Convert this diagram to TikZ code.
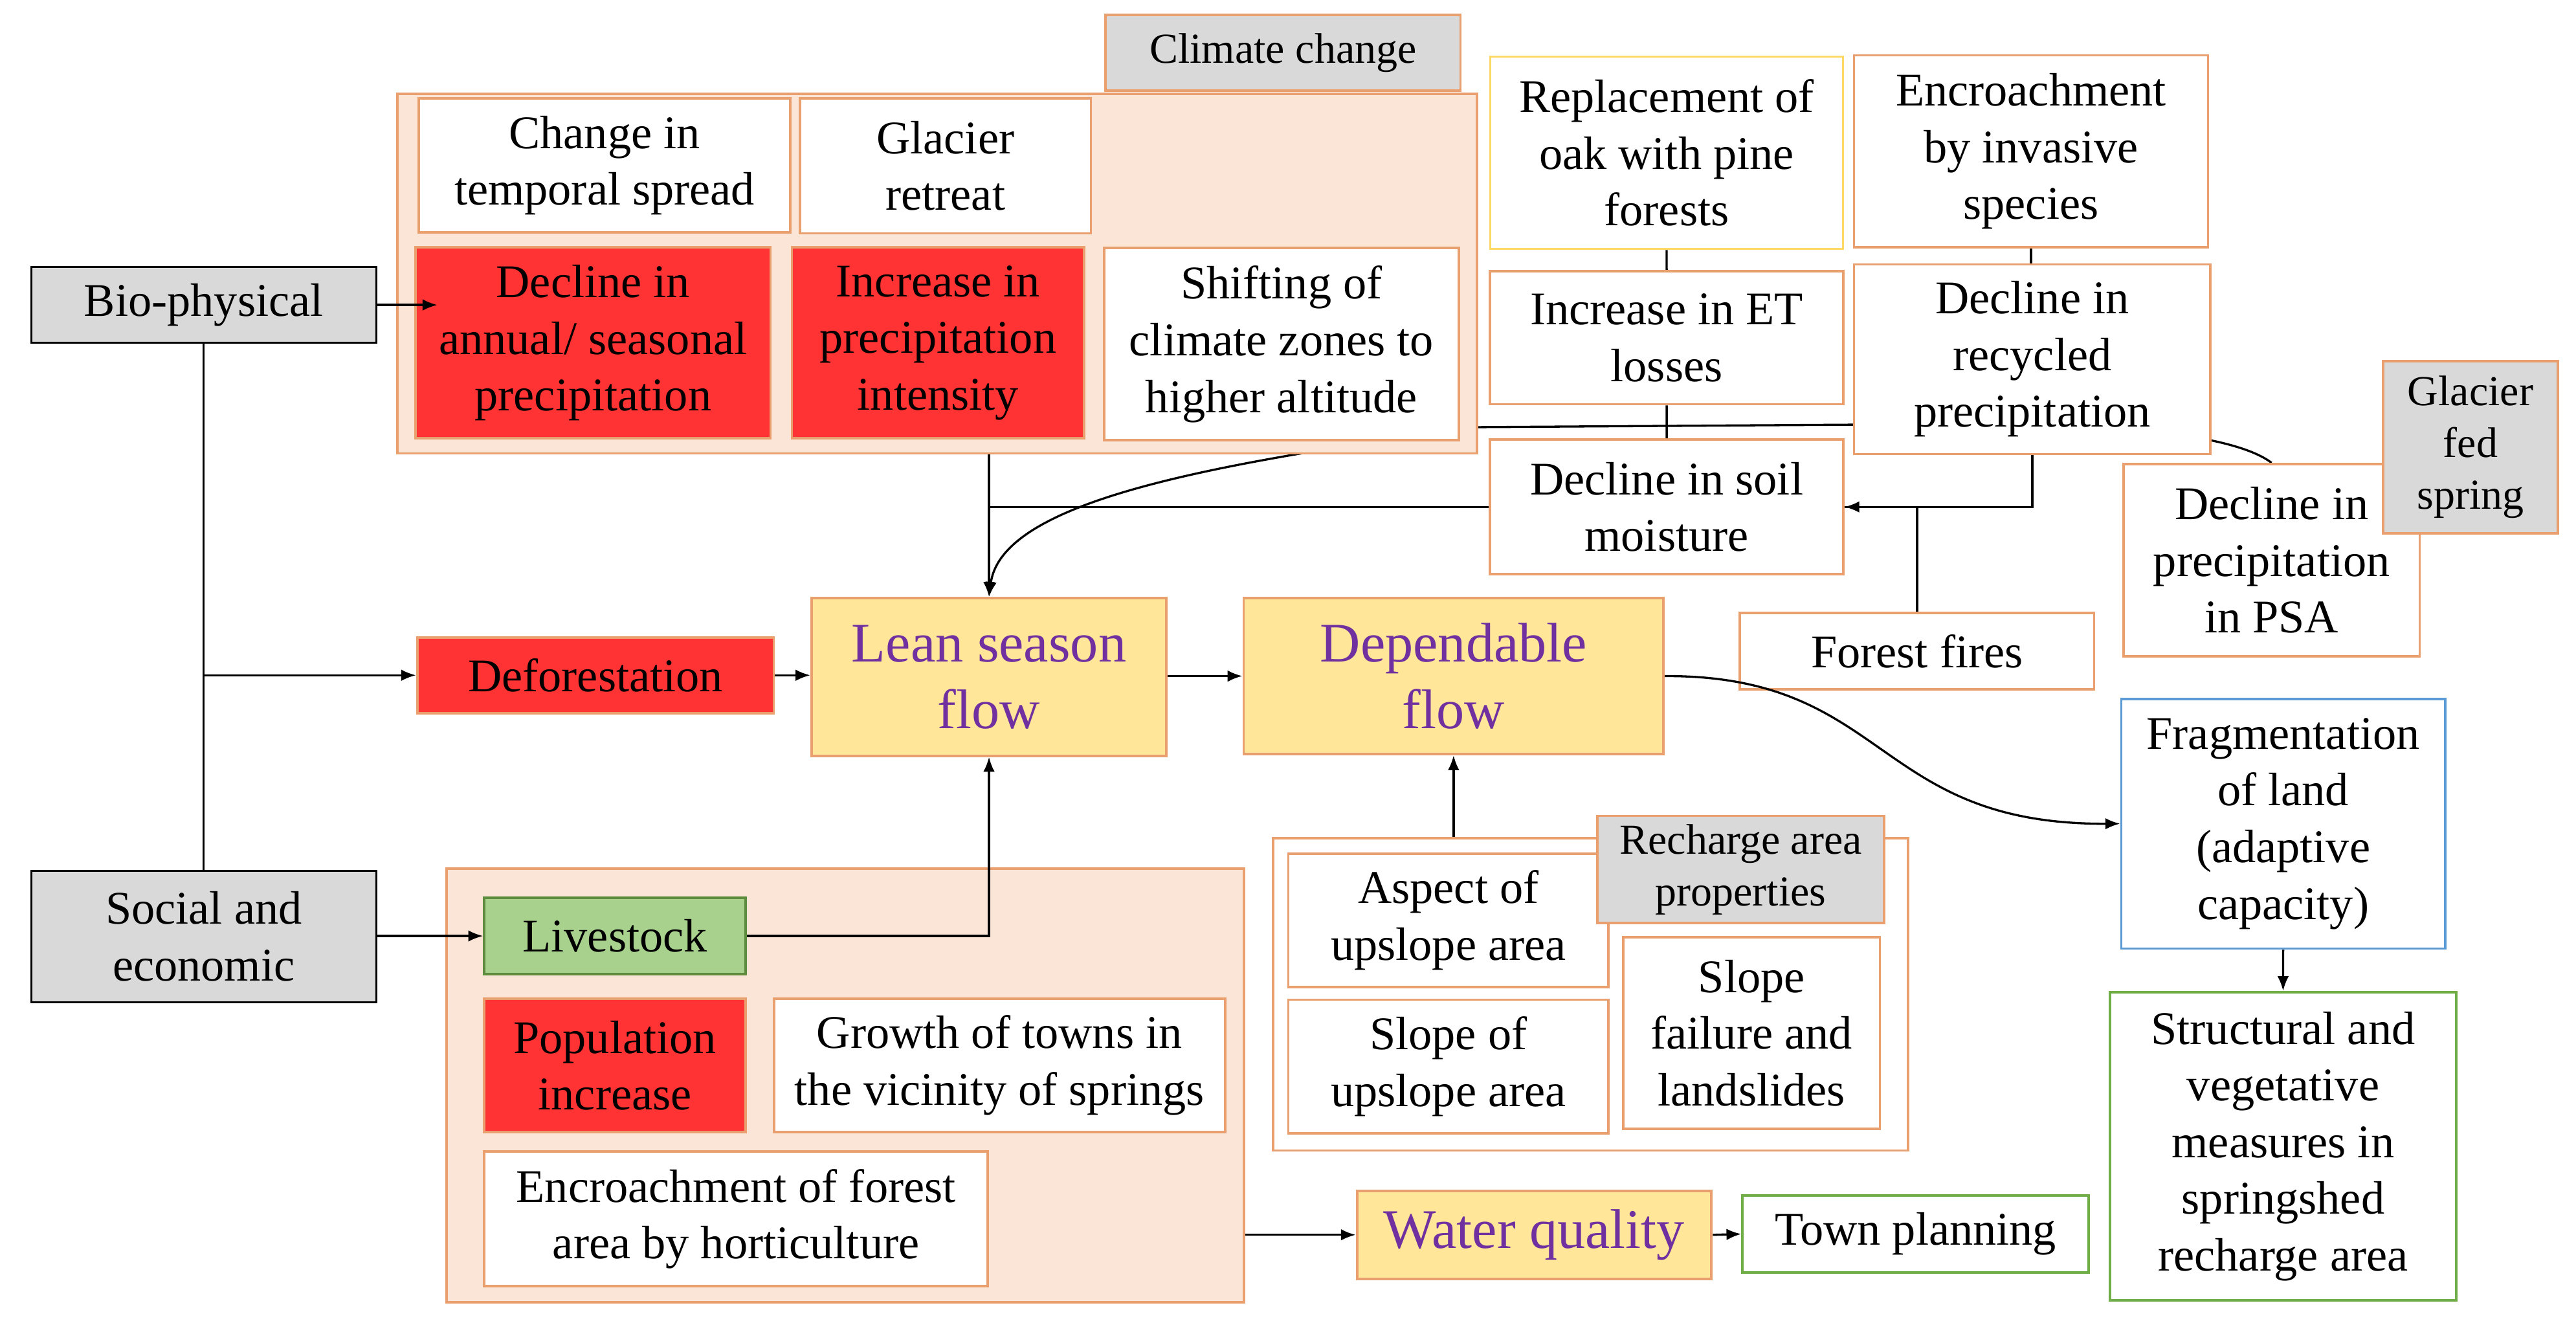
\documentclass[tikz,border=0pt]{standalone}
\usepackage{fontspec}
\setmainfont{Liberation Serif}
\usetikzlibrary{arrows.meta,backgrounds}
\definecolor{peach}{HTML}{FBE5D6}
\definecolor{brdr}{HTML}{E9A06E}
\definecolor{hotred}{HTML}{FF3333}
\definecolor{greyfill}{HTML}{D9D9D9}
\definecolor{flowyellow}{HTML}{FFE699}
\definecolor{flowtext}{HTML}{7030A0}
\definecolor{stockgreen}{HTML}{A9D18E}
\definecolor{darkgreen}{HTML}{5E8C3E}
\definecolor{leafgreen}{HTML}{70AD47}
\definecolor{skyblue}{HTML}{5B9BD5}
\definecolor{paleyellow}{HTML}{FFD966}

\begin{document}
\begin{tikzpicture}[x=1pt,y=-1pt,
    wh/.style 2 args={minimum width=#1,minimum height=#2},
    box/.style={draw=brdr,fill=white,line width=1.5pt,inner sep=0pt,align=center,
        font=\fontsize{28.5}{34.5}\selectfont},
    redbox/.style={box,fill=hotred},
    greybox/.style={box,fill=greyfill,font=\fontsize{26}{31.5}\selectfont},
    rootbox/.style={box,fill=greyfill,draw=black,line width=1.2pt},
    outerbox/.style={box,fill=peach},
    flowbox/.style={box,fill=flowyellow,text=flowtext,font=\fontsize{34}{40.5}\selectfont},
    arr/.style={-{Latex[length=9pt,width=7pt]},line width=1.3pt},
    ln/.style={line width=1.3pt}]
    \useasboundingbox (0,0) rectangle (1568,811.6);
    % climate change group
    \node[greybox,wh={216}{46}] (climchg) at (781,32) {Climate change};
    \node[outerbox,wh={657}{219}] (climbox) at (570.5,166.5) {};
    \node[box,wh={226}{81.5}] (temporal) at (368,100.75) {Change in\\temporal spread};
    \node[box,wh={177}{82}] (glacier) at (575.5,101) {Glacier\\retreat};
    \node[redbox,wh={216}{116}] (declann) at (361,208.65) {Decline in\\annual/ seasonal\\precipitation};
    \node[redbox,wh={178}{116}] (intens) at (571,208.65) {Increase in\\precipitation\\intensity};
    \node[box,wh={216}{117}] (shift) at (780,209.5) {Shifting of\\climate zones to\\higher altitude};
    % drivers
    \node[rootbox,wh={210}{46}] (bio) at (124,185.6) {Bio-physical};
    \node[rootbox,wh={210}{80}] (social) at (124,570) {Social and\\economic};
    \node[redbox,wh={217}{46}] (defor) at (362.5,411) {Deforestation};
    \node[flowbox,wh={216}{96}] (lean) at (602,412) {Lean season\\flow};
    \node[flowbox,wh={255.6}{95}] (dep) at (884.8,411.5) {Dependable\\flow};
    % social group
    \node[outerbox,wh={485.5}{264}] (socbox) at (514.45,660.8) {};
    \node[box,fill=stockgreen,draw=darkgreen,wh={159}{46.6}] (livest) at (374.3,569.7) {Livestock};
    \node[redbox,wh={159}{81.2}] (popul) at (374.3,648.5) {Population\\increase};
    \node[box,wh={274.6}{81.2}] (towns) at (608.4,648.5) {Growth of towns in\\the vicinity of springs};
    \node[box,wh={306.4}{82}] (horti) at (448,741.9) {Encroachment of forest\\area by horticulture};
    \node[flowbox,wh={215.8}{53.6}] (water) at (933.9,751.6) {Water quality};
    \node[box,draw=leafgreen,wh={210.7}{46.6}] (town) at (1166,751.1) {Town planning};
    % recharge area
    \node[box,wh={386.7}{190.1}] (rechbox) at (968.15,605.25) {};
    \node[box,wh={194.9}{81}] (aspect) at (881.65,560.2) {Aspect of\\upslope area};
    \node[greybox,wh={174.6}{65.2}] (rechprop) at (1059.6,529.2) {Recharge area\\properties};
    \node[box,wh={194.9}{81.2}] (slopeup) at (881.65,649.1) {Slope of\\upslope area};
    \node[box,wh={156.3}{116.4}] (slfail) at (1066.15,628.8) {Slope\\failure and\\landslides};
    % forest side
    \node[box,draw=paleyellow,wh={214.7}{117}] (replace) at (1014.45,93) {Replacement of\\oak with pine\\forests};
    \node[box,wh={215.5}{117}] (invasive) at (1236.25,92.15) {Encroachment\\by invasive\\species};
    \node[box,wh={215}{81}] (etloss) at (1014.5,205.5) {Increase in ET\\losses};
    \node[box,wh={217}{115.5}] (recyc) at (1237,218.65) {Decline in\\recycled\\precipitation};
    \node[box,wh={215}{82}] (soil) at (1014.5,308.55) {Decline in soil\\moisture};
    \node[box,wh={215.6}{46.6}] (fire) at (1166.9,396.3) {Forest fires};
    \node[box,wh={180.2}{117}] (psa) at (1382.7,340.95) {Decline in\\precipitation\\in PSA};
    \node[greybox,wh={106.5}{105}] (glfed) at (1503.75,272.25) {Glacier\\fed\\spring};
    \node[box,draw=skyblue,wh={197}{152}] (frag) at (1389.75,501.35) {Fragmentation\\of land\\(adaptive\\capacity)};
    \node[box,draw=leafgreen,wh={210.6}{187.5}] (struct) at (1389.7,697.65) {Structural and\\vegetative\\measures in\\springshed\\recharge area};
    % links
    \draw[arr] (bio.east) -- ([xshift=14pt]bio.east -| declann.west);
    \draw[ln] (bio.south) -- (social.north);
    \draw[arr] (bio.south |- defor.west) -- (defor.west);
    \draw[arr] (defor.east) -- (defor.east -| lean.west);
    \draw[arr] (lean.east |- dep.west) -- (dep.west);
    \draw[arr] (lean.north |- climbox.south) -- (lean.north);
    \draw[ln] (soil.west) -- (soil.west -| lean.north);
    \draw[ln] (replace.south) -- (etloss.north) (etloss.south) -- (soil.north);
    \draw[ln] (invasive.south) -- (invasive.south |- recyc.north);
    \draw[ln] (recyc.south) |- (soil.east);
    \draw[arr] (fire.north) |- (soil.east);
    \draw[arr] (social.east |- livest.west) -- (livest.west);
    \draw[arr] (livest.east) -| (lean.south);
    \draw[arr] (socbox.east |- water.west) -- (water.west);
    \draw[arr] (water.east) -- (town.west);
    \draw[arr] (dep.south |- rechbox.north) -- (dep.south);
    \draw[arr] (frag.south) -- (struct.north);
    \draw[arr] (dep.east) .. controls (1150,411) and (1140,502) .. (frag.west);
    \begin{pgfonlayer}{background}
        \fill[white] (0,0) rectangle (1568,811.6);
        \draw[arr] (psa.north) .. controls (1362,266) and (1300,258) .. (1200,258)
            -- (898,260) .. controls (748,281) and (610,303) .. (lean.north);
    \end{pgfonlayer}
\end{tikzpicture}
\end{document}
